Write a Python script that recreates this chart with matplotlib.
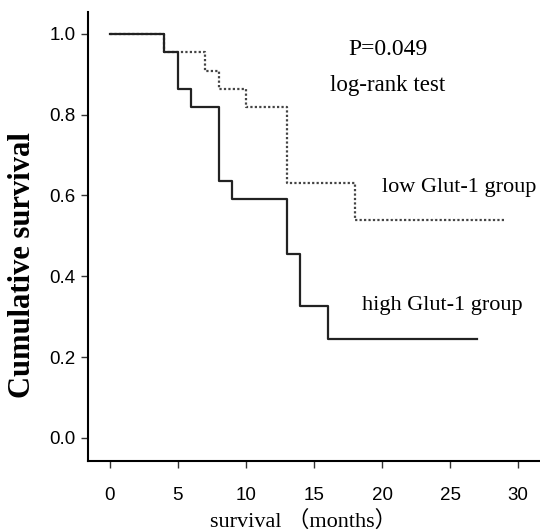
import matplotlib
matplotlib.use('Agg')
import matplotlib.pyplot as plt

# Kaplan-Meier step data (months, cumulative survival)
high_t = [0, 4, 5, 6, 8, 9, 13, 14, 16, 27]
high_s = [1.0, 0.955, 0.864, 0.818, 0.636, 0.591, 0.455, 0.327, 0.245, 0.245]
low_t = [0, 4, 7, 8, 10, 13, 18, 29]
low_s = [1.0, 0.955, 0.909, 0.864, 0.818, 0.630, 0.540, 0.540]

x_ticks = [0, 5, 10, 15, 20, 25, 30]
y_ticks = [0.0, 0.2, 0.4, 0.6, 0.8, 1.0]

serif = ['Liberation Serif', 'Noto Sans CJK SC', 'DejaVu Serif']

fig = plt.figure(figsize=(5.4, 5.31), dpi=100)
ax = fig.add_axes([88 / 540, 70 / 531, 452 / 540, 449 / 531])

ax.step(low_t, low_s, where='post', color='#444444', lw=1.6, linestyle=(0, (1, 1)))
ax.step(high_t, high_s, where='post', color='#222222', lw=1.6)

ax.set_xlim(-1.6, 31.6)
ax.set_ylim(-0.057, 1.054)
ax.set_xticks(x_ticks)
ax.set_yticks(y_ticks)
ax.set_yticklabels(['%.1f' % v for v in y_ticks])

ax.spines['right'].set_color('none')
ax.spines['top'].set_color('none')
ax.spines['left'].set_linewidth(1.5)
ax.spines['bottom'].set_linewidth(1.5)
ax.tick_params(direction='out', length=5, width=1, color='#333333')
ax.tick_params(axis='x', pad=14)
ax.tick_params(axis='y', pad=4)
for lab in ax.get_xticklabels() + ax.get_yticklabels():
    lab.set_family('Liberation Sans')
    lab.set_fontsize(13.5)

ax.text(20.4, 0.962, 'P=0.049', ha='center', va='center', family=serif, fontsize=17)
ax.text(20.4, 0.872, 'log-rank test', ha='center', va='center', family=serif, fontsize=16.5)
ax.text(20.0, 0.619, 'low Glut-1 group', ha='left', va='center', family=serif, fontsize=16)
ax.text(18.5, 0.329, 'high Glut-1 group', ha='left', va='center', family=serif, fontsize=16)

ax.set_xlabel('survival （months）', family=serif, fontsize=16)
ax.xaxis.set_label_coords(0.476, -0.11)

# y label placed by figure coords so it stays inside the canvas
fig.text(23 / 540, 266 / 531, 'Cumulative survival', rotation=90, ha='center', va='center',
         family=serif, fontsize=22, fontweight='bold')

fig.savefig('out.png', dpi=100)
